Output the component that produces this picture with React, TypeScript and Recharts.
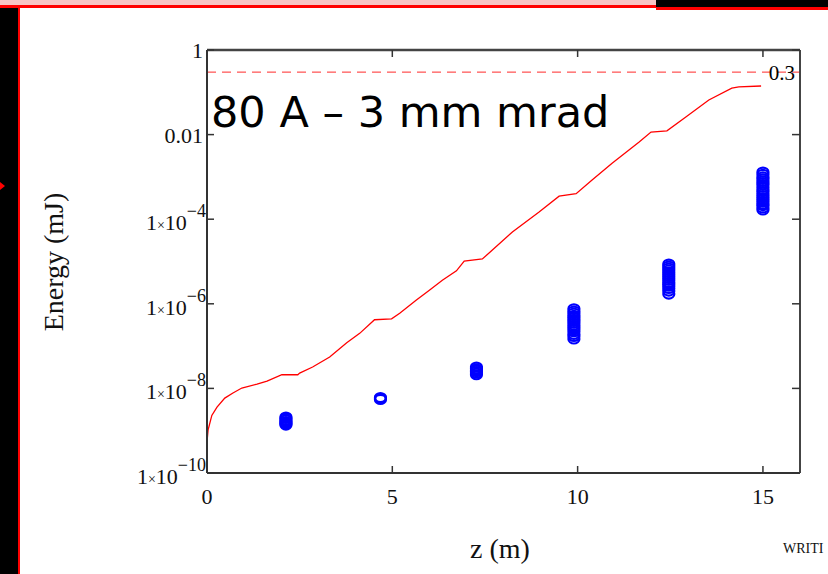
import React from 'react';
import { ComposedChart, Line, Scatter, XAxis, YAxis, ReferenceLine, Label } from 'recharts';

// Red curve: pulse energy along z
const curveZ = [0, 0.03, 0.13, 0.27, 0.48, 0.7, 0.94, 1.35, 1.62, 2.02, 2.45, 2.5, 2.85, 3.31, 3.77, 4.12, 4.52, 4.98, 5.2, 5.65, 6.0, 6.35, 6.73, 6.94, 7.43, 7.7, 8.24, 8.96, 9.5, 9.96, 10.39, 10.93, 11.66, 11.98, 12.41, 12.92, 13.54, 14.16, 14.35, 14.95];
const curveE = [5.4e-10, 1.05e-9, 2.3e-9, 3.6e-9, 5.9e-9, 7.8e-9, 1.02e-8, 1.26e-8, 1.48e-8, 2.1e-8, 2.1e-8, 2.3e-8, 3.2e-8, 5.5e-8, 1.2e-7, 2.0e-7, 4.2e-7, 4.4e-7, 6.0e-7, 1.23e-6, 2.1e-6, 3.6e-6, 6.0e-6, 1.02e-5, 1.15e-5, 1.86e-5, 5.0e-5, 1.48e-4, 3.5e-4, 4.0e-4, 8.5e-4, 2.1e-3, 6.7e-3, 1.15e-2, 1.23e-2, 2.6e-2, 6.6e-2, 0.126, 0.134, 0.141];

// Blue circles: clusters of measured energies
const clusterZ = [2.13, 4.68, 7.27, 9.9, 12.46, 15.0];
const clusterE = [
  [2.1e-9, 1.95e-9, 1.8e-9, 1.65e-9, 1.55e-9, 1.45e-9, 1.36e-9],
  [6.1e-9, 5.8e-9, 5.5e-9],
  [3.2e-8, 2.9e-8, 2.7e-8, 2.5e-8, 2.3e-8, 2.1e-8],
  [7.6e-7, 6.7e-7, 6.0e-7, 5.3e-7, 4.8e-7, 4.3e-7, 3.9e-7, 3.5e-7, 3.1e-7, 2.8e-7, 2.5e-7, 2.2e-7, 1.9e-7, 1.7e-7, 1.47e-7],
  [8.7e-6, 7.8e-6, 7.0e-6, 6.3e-6, 5.6e-6, 5.0e-6, 4.5e-6, 4.0e-6, 3.6e-6, 3.2e-6, 2.9e-6, 2.6e-6, 2.3e-6, 2.0e-6, 1.7e-6],
  [1.3e-3, 1.15e-3, 1.0e-3, 9.0e-4, 8.0e-4, 7.2e-4, 6.5e-4, 5.7e-4, 5.0e-4, 4.5e-4, 4.0e-4, 3.6e-4, 3.2e-4, 2.9e-4, 2.6e-4, 2.3e-4, 2.1e-4, 1.85e-4, 1.65e-4],
];

const xTicks = [0, 5, 10, 15];
const xTopTicks = [5, 10, 15];
const yTicks = [1, 0.01, 1e-4, 1e-6, 1e-8, 1e-10];
const yTickLabels = ['1', '0.01', '1×10^−4', '1×10^−6', '1×10^−8', '1×10^−10'];
const refLevel = 0.3;

const lineData = curveZ.map((z, i) => ({ z, e: curveE[i] }));
const scatterData = clusterZ.flatMap((z, i) => clusterE[i].map((e) => ({ z, e })));

const serif = '"Liberation Serif", "Times New Roman", serif';
const axisColor = '#333';

function BottomTick(props: any) {
  const { x, y, payload } = props;
  return (
    <g>
      <line x1={x} y1={y} x2={x} y2={y - 7} stroke={axisColor} strokeWidth={1.5} />
      <text x={x} y={y + 31} textAnchor="middle" fontFamily={serif} fontSize={22} fill="#111">
        {payload.value}
      </text>
    </g>
  );
}

function TopTick(props: any) {
  const { x, y } = props;
  return <line x1={x} y1={y} x2={x} y2={y + 7} stroke={axisColor} strokeWidth={1.5} />;
}

function RightTick(props: any) {
  const { x, y } = props;
  return <line x1={x} y1={y} x2={x - 8} y2={y} stroke={axisColor} strokeWidth={1.5} />;
}

function LeftTick(props: any) {
  const { x, y, payload } = props;
  const idx = yTicks.indexOf(payload.value);
  const label = yTickLabels[idx] ?? '';
  const parts = label.split('^');
  return (
    <g>
      <line x1={x} y1={y} x2={x + 7} y2={y} stroke={axisColor} strokeWidth={1.5} />
      {parts.length === 1 ? (
        <text x={x - 4} y={y + 8} textAnchor="end" fontFamily={serif} fontSize={22} fill="#111">
          {label}
        </text>
      ) : (
        <text x={x - 1} y={y + 11} textAnchor="end" fontFamily={serif} fontSize={22} fill="#111">
          1<tspan fontSize={14}>×</tspan>10
          <tspan dy={-13} fontSize={18}>{parts[1]}</tspan>
        </text>
      )}
    </g>
  );
}

function Ring(props: any) {
  const { cx, cy } = props;
  return <ellipse cx={cx} cy={cy} rx={5.5} ry={4.5} fill="none" stroke="#0000ff" strokeWidth={2.2} />;
}

export default function App() {
  return (
    <div style={{ position: 'absolute', left: 0, top: 0, width: 828, height: 574, overflow: 'hidden', background: '#fff' }}>
      {/* slide decorations */}
      <div style={{ position: 'absolute', left: 0, top: 0, width: 656, height: 5, background: '#f8c4c4' }} />
      <div style={{ position: 'absolute', left: 656, top: 0, width: 172, height: 7, background: '#000' }} />
      <div style={{ position: 'absolute', left: 0, top: 5, width: 656, height: 3, background: '#ff0000' }} />
      <div style={{ position: 'absolute', left: 656, top: 7, width: 172, height: 3, background: '#ff0000' }} />
      <div style={{ position: 'absolute', left: 0, top: 8, width: 18, height: 566, background: '#000' }} />
      <div style={{ position: 'absolute', left: 18, top: 8, width: 2, height: 566, background: '#ff0000' }} />
      <div style={{ position: 'absolute', left: 0, top: 182, width: 0, height: 0, borderTop: '4px solid transparent', borderBottom: '4px solid transparent', borderLeft: '5px solid #ff0000' }} />

      <div style={{ position: 'absolute', left: 0, top: 0 }}>
        <ComposedChart
          width={828}
          height={574}
          data={lineData}
          margin={{ top: 49, right: 27, bottom: 41, left: 77 }}
        >
          <XAxis
            xAxisId="bottom"
            dataKey="z"
            type="number"
            domain={[0, 16]}
            ticks={xTicks}
            allowDataOverflow
            height={60}
            tickSize={0}
            tickMargin={0}
            tickLine={false}
            tick={<BottomTick />}
            axisLine={{ stroke: axisColor, strokeWidth: 2 }}
          />
          <XAxis
            xAxisId="top"
            orientation="top"
            dataKey="z"
            type="number"
            domain={[0, 16]}
            ticks={xTopTicks}
            allowDataOverflow
            height={1}
            tickSize={0}
            tickMargin={0}
            tickLine={false}
            tick={<TopTick />}
            axisLine={{ stroke: '#444', strokeWidth: 2.5 }}
          />
          <YAxis
            yAxisId="left"
            dataKey="e"
            type="number"
            scale="log"
            domain={[1e-10, 1]}
            ticks={yTicks}
            allowDataOverflow
            width={130}
            tickSize={0}
            tickMargin={0}
            tickLine={false}
            tick={<LeftTick />}
            axisLine={{ stroke: axisColor, strokeWidth: 2 }}
          />
          <YAxis
            yAxisId="right"
            orientation="right"
            dataKey="e"
            type="number"
            scale="log"
            domain={[1e-10, 1]}
            ticks={yTicks}
            allowDataOverflow
            width={1}
            tickSize={0}
            tickMargin={0}
            tickLine={false}
            tick={<RightTick />}
            axisLine={{ stroke: '#444', strokeWidth: 2 }}
          />
          <ReferenceLine
            xAxisId="bottom"
            yAxisId="left"
            y={refLevel}
            stroke="#ff2a2a"
            strokeWidth={1}
            strokeDasharray="9 6"
          >
            <Label value="0.3" position="insideRight" offset={5} fill="#000" fontFamily={serif} fontSize={21} />
          </ReferenceLine>
          <Line
            xAxisId="bottom"
            yAxisId="left"
            dataKey="e"
            type="linear"
            stroke="#ff0000"
            strokeWidth={1.3}
            dot={false}
            isAnimationActive={false}
          />
          <Scatter
            xAxisId="bottom"
            yAxisId="left"
            data={scatterData}
            dataKey="e"
            shape={<Ring />}
            isAnimationActive={false}
          />
        </ComposedChart>
      </div>

      <svg width={828} height={574} style={{ position: 'absolute', left: 0, top: 0, pointerEvents: 'none' }}>
        <text x={211} y={127} fontFamily='"DejaVu Sans", Verdana, sans-serif' fontSize={43} fill="#000">
          80 A – 3 mm mrad
        </text>
        <text
          transform="translate(63,262) rotate(-90)"
          textAnchor="middle"
          fontFamily={serif}
          fontSize={28}
          fill="#111"
        >
          Energy (mJ)
        </text>
        <text x={500} y={558} textAnchor="middle" fontFamily={serif} fontSize={28} fill="#111">
          z (m)
        </text>
        <text x={783} y={553} fontFamily={serif} fontSize={14} fill="#111">
          WRITI
        </text>
      </svg>
    </div>
  );
}
